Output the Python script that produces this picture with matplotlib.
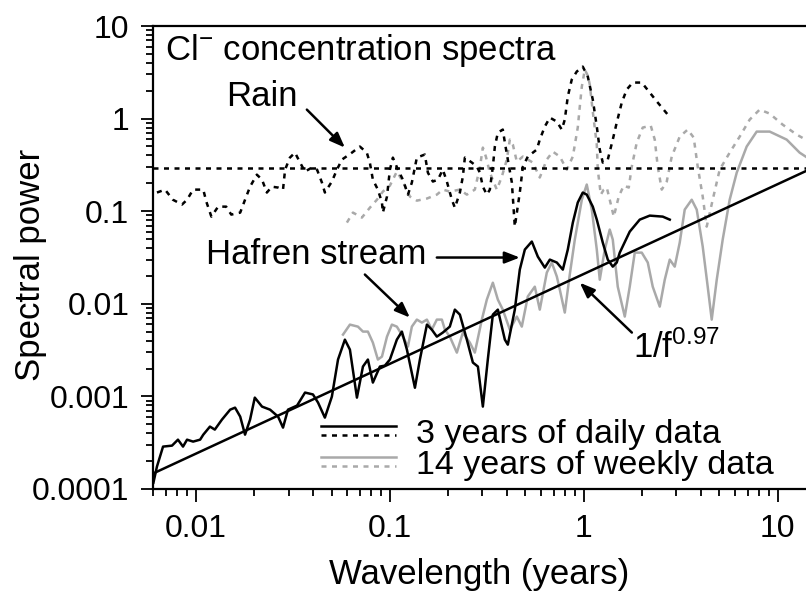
import numpy as np
import matplotlib
matplotlib.use('Agg')
import matplotlib.pyplot as plt
from matplotlib.legend_handler import HandlerBase
from matplotlib.lines import Line2D
from matplotlib.ticker import FuncFormatter, NullFormatter

plt.rcParams['font.family'] = ['Liberation Sans', 'DejaVu Sans']
plt.rcParams['mathtext.fontset'] = 'custom'
plt.rcParams['mathtext.rm'] = 'Liberation Sans'
plt.rcParams['mathtext.it'] = 'Liberation Sans:italic'
plt.rcParams['mathtext.default'] = 'regular'

# --- Hafren stream, 3 years of daily data (wavelength in years, power)
stream_daily_wl = [0.00603, 0.00629, 0.00676, 0.00752, 0.00807, 0.00857, 0.00899, 0.00966,
                   0.0105, 0.0109, 0.0118, 0.0125, 0.0136, 0.0150, 0.0159, 0.0169, 0.0179,
                   0.0190, 0.0201, 0.0219, 0.0241, 0.0265, 0.0281, 0.0298, 0.0332, 0.0365,
                   0.0401, 0.0426, 0.0462, 0.0502, 0.0540, 0.0586, 0.0622, 0.0676, 0.0726,
                   0.0770, 0.0817, 0.0888, 0.0942, 0.100, 0.1086, 0.1153, 0.1224, 0.1346,
                   0.1428, 0.1552, 0.1645, 0.1746, 0.1875, 0.2037, 0.2163, 0.2296, 0.2494,
                   0.2679, 0.2844, 0.3016, 0.3199, 0.3396, 0.3604, 0.3917, 0.4057, 0.4408,
                   0.4677, 0.4966, 0.5395, 0.5794, 0.6295, 0.6683, 0.7261, 0.7798, 0.827,
                   0.878, 0.931, 0.988, 1.036, 1.113, 1.167, 1.253, 1.330, 1.411, 1.479,
                   1.533, 1.726, 1.944, 2.189, 2.554, 2.776]
stream_daily_pw = [1.17e-4, 1.75e-4, 2.87e-4, 2.94e-4, 3.41e-4, 2.87e-4, 3.41e-4, 3.25e-4,
                   3.41e-4, 3.86e-4, 4.72e-4, 4.38e-4, 5.61e-4, 7.19e-4, 7.56e-4, 6.05e-4,
                   3.86e-4, 5.61e-4, 9.7e-4, 7.76e-4, 7.19e-4, 6.05e-4, 4.6e-4, 7.19e-4,
                   7.96e-4, 1.10e-3, 1.05e-3, 8.57e-4, 5.9e-4, 9.95e-4, 2.50e-3, 4.10e-3,
                   3.20e-3, 9.7e-4, 2.10e-3, 2.50e-3, 1.41e-3, 2.10e-3, 2.15e-3, 2.50e-3,
                   4.10e-3, 5.01e-3, 3.20e-3, 1.24e-3, 2.50e-3, 5.96e-3, 5.26e-3, 4.42e-3,
                   4.89e-3, 5.67e-3, 8.65e-3, 7.64e-3, 4.10e-3, 2.32e-3, 2.10e-3, 7.76e-4,
                   2.50e-3, 7.64e-3, 8.65e-3, 4.10e-3, 3.62e-3, 8.65e-3, 0.0234, 0.0385,
                   0.0470, 0.0323, 0.0246, 0.0300, 0.0279, 0.0234, 0.0385, 0.0753, 0.124,
                   0.159, 0.151, 0.112, 0.0811, 0.0458, 0.0300, 0.0252, 0.0279, 0.0357,
                   0.0602, 0.0811, 0.0896, 0.0874, 0.0811]

# --- Hafren stream, 14 years of weekly data
stream_weekly_wl = [0.0573, 0.0622, 0.0684, 0.0726, 0.0770, 0.0817, 0.0867, 0.0910, 0.0966,
                    0.1024, 0.1086, 0.1167, 0.1239, 0.1298, 0.1377, 0.1462, 0.1552, 0.1645,
                    0.1746, 0.1854, 0.1921, 0.2037, 0.2215, 0.2378, 0.2584, 0.2742, 0.2980,
                    0.3162, 0.3396, 0.3604, 0.3822, 0.4155, 0.4515, 0.4790, 0.5145, 0.5590,
                    0.5930, 0.6445, 0.6839, 0.7261, 0.7523, 0.7981, 0.8468, 0.899, 0.977,
                    1.036, 1.100, 1.167, 1.209, 1.283, 1.361, 1.411, 1.497, 1.627, 1.726,
                    1.832, 1.991, 2.138, 2.268, 2.465, 2.616, 2.776, 2.945, 3.125, 3.316,
                    3.603, 3.824, 4.106, 4.357, 4.569, 4.850, 5.206, 5.656, 6.150, 6.921,
                    7.795, 9.095, 11.13, 12.98, 13.94]
stream_weekly_pw = [4.65e-3, 5.96e-3, 5.67e-3, 5.01e-3, 5.01e-3, 3.81e-3, 2.50e-3, 2.69e-3,
                    4.42e-3, 5.96e-3, 5.67e-3, 4.42e-3, 3.45e-3, 5.67e-3, 6.75e-3, 6.27e-3,
                    6.75e-3, 5.26e-3, 6.75e-3, 6.75e-3, 5.26e-3, 4.42e-3, 2.97e-3, 4.89e-3,
                    3.81e-3, 2.97e-3, 6.75e-3, 0.0111, 0.0169, 0.0111, 8.65e-3, 5.26e-3,
                    7.28e-3, 5.67e-3, 0.0120, 0.0153, 8.65e-3, 0.0217, 0.0279, 0.0197,
                    0.0142, 8.04e-3, 0.0207, 0.0494, 0.133, 0.194, 0.104, 0.0385, 0.0182,
                    0.0385, 0.0633, 0.0494, 0.0153, 7.28e-3, 0.0153, 0.0357, 0.0357, 0.0279,
                    0.0153, 9.33e-3, 0.0182, 0.0300, 0.0252, 0.0458, 0.104, 0.133, 0.104,
                    0.0415, 0.0153, 6.75e-3, 0.0182, 0.0494, 0.133, 0.261, 0.499, 0.724,
                    0.724, 0.593, 0.429, 0.389]

# --- Rain, 3 years of daily data
rain_daily_wl = [0.00629, 0.00692, 0.00760, 0.00847, 0.00899, 0.00966, 0.0109, 0.0113, 0.0120,
                 0.0130, 0.0143, 0.0152, 0.0169, 0.0179, 0.0190, 0.0206, 0.0219, 0.0232,
                 0.0246, 0.0265, 0.0281, 0.0288, 0.0305, 0.0324, 0.0344, 0.0365, 0.0396,
                 0.0421, 0.0446, 0.0462, 0.0502, 0.0533, 0.0566, 0.0637, 0.0700, 0.0760,
                 0.0788, 0.0817, 0.0867, 0.0910, 0.0920, 0.0966, 0.100, 0.1036, 0.110,
                 0.1167, 0.1239, 0.1298, 0.1377, 0.1514, 0.1570, 0.1666, 0.1768, 0.1875,
                 0.1967, 0.2088, 0.2163, 0.2296, 0.2378, 0.2436, 0.2648, 0.2809, 0.2911,
                 0.3016, 0.3162, 0.3277, 0.3396, 0.3478, 0.3604, 0.3822, 0.3917, 0.4057,
                 0.4256, 0.4408, 0.4677, 0.4851, 0.5145, 0.5724, 0.5930, 0.6295, 0.6683,
                 0.7261, 0.7701, 0.7981, 0.827, 0.867, 0.920, 0.988, 1.049, 1.113, 1.167,
                 1.209, 1.253, 1.330, 1.411, 1.479, 1.570, 1.666, 1.789, 1.991, 2.189,
                 2.407, 2.710]
rain_daily_pw = [0.159, 0.171, 0.133, 0.118, 0.133, 0.171, 0.171, 0.127, 0.0874, 0.112, 0.112,
                 0.0919, 0.0966, 0.133, 0.184, 0.248, 0.219, 0.159, 0.184, 0.180, 0.171,
                 0.281, 0.379, 0.429, 0.335, 0.268, 0.296, 0.281, 0.204, 0.159, 0.209,
                 0.281, 0.361, 0.429, 0.499, 0.429, 0.335, 0.219, 0.171, 0.124, 0.0966,
                 0.144, 0.281, 0.379, 0.281, 0.219, 0.151, 0.204, 0.379, 0.409, 0.261,
                 0.209, 0.219, 0.281, 0.209, 0.133, 0.109, 0.159, 0.236, 0.379, 0.335,
                 0.303, 0.261, 0.184, 0.151, 0.171, 0.303, 0.499, 0.706, 0.761, 0.551,
                 0.361, 0.204, 0.0682, 0.159, 0.303, 0.389, 0.463, 0.593, 0.820, 1.025,
                 0.928, 0.761, 0.975, 1.73, 2.64, 3.22, 3.64, 2.84, 1.60, 0.820, 0.463,
                 0.335, 0.361, 0.593, 0.905, 1.49, 2.06, 2.45, 2.45, 1.91, 1.49, 1.105]

# --- Rain, 14 years of weekly data
rain_weekly_wl = [0.0600, 0.0645, 0.0717, 0.0788, 0.0857, 0.0920, 0.100, 0.1086, 0.1167,
                  0.1268, 0.1377, 0.1552, 0.1746, 0.1875, 0.2037, 0.2296, 0.2494, 0.2742,
                  0.2911, 0.3016, 0.3126, 0.3277, 0.3560, 0.3778, 0.4010, 0.4155, 0.4306,
                  0.4515, 0.4851, 0.5459, 0.5930, 0.6445, 0.6922, 0.7523, 0.8174, 0.878,
                  0.931, 0.9537, 0.977, 1.012, 1.049, 1.074, 1.113, 1.167, 1.181, 1.224,
                  1.268, 1.314, 1.361, 1.428, 1.515, 1.607, 1.706, 1.768, 1.876, 2.014,
                  2.215, 2.323, 2.407, 2.524, 2.679, 2.842, 3.125, 3.436, 3.690, 3.869,
                  4.106, 4.306, 4.623, 5.023, 5.656, 6.371, 7.172, 8.077, 9.095, 10.61,
                  12.53, 13.94]
rain_weekly_pw = [0.0753, 0.0966, 0.0853, 0.109, 0.133, 0.163, 0.189, 0.268, 0.209, 0.144,
                  0.130, 0.137, 0.151, 0.171, 0.163, 0.171, 0.151, 0.171, 0.296, 0.486,
                  0.389, 0.261, 0.171, 0.236, 0.361, 0.593, 0.524, 0.343, 0.389, 0.335,
                  0.231, 0.361, 0.440, 0.389, 0.281, 0.389, 0.800, 1.348, 2.216, 3.38,
                  2.91, 2.33, 1.19, 0.524, 0.281, 0.151, 0.171, 0.180, 0.133, 0.0874,
                  0.144, 0.189, 0.180, 0.303, 0.551, 0.800, 0.840, 0.593, 0.303, 0.171,
                  0.209, 0.389, 0.639, 0.761, 0.623, 0.303, 0.144, 0.0682, 0.133, 0.281,
                  0.429, 0.639, 0.975, 1.251, 1.132, 0.861, 0.672, 0.593]

rain_level = 0.29           # flat (white) rain spectrum
fit_amp, fit_exp = 0.021, 0.97   # stream fit: power = amp * wavelength^exp
x_lim = (0.006, 14.0)
y_lim = (1e-4, 10.0)

BLACK = 'black'
GRAY = '#a9a9a9'
DOT = (0, (2.0, 2.2))
LW = 1.8
FS = 25


class PairHandler(HandlerBase):
    """Legend key with a solid line stacked above a dashed one."""
    def create_artists(self, legend, orig_handle, xdescent, ydescent,
                       width, height, fontsize, trans):
        out = []
        for k, h in enumerate(orig_handle):
            y = height * (0.72 - 0.40 * k) - ydescent
            ln = Line2D([-xdescent, width - xdescent], [y, y])
            ln.update_from(h)
            ln.set_transform(trans)
            out.append(ln)
        return out


fig = plt.figure(figsize=(8.06, 5.95), dpi=100)
ax = fig.add_axes([153 / 806, 1 - 489 / 595, 653 / 806, 463 / 595])
ax.set_xscale('log')
ax.set_yscale('log')
ax.set_xlim(*x_lim)
ax.set_ylim(*y_lim)

# weekly records first so the daily ones sit on top
l_rw, = ax.plot(rain_weekly_wl, rain_weekly_pw, color=GRAY, lw=LW, linestyle=DOT)
l_sw, = ax.plot(stream_weekly_wl, stream_weekly_pw, color=GRAY, lw=LW)
l_rd, = ax.plot(rain_daily_wl, rain_daily_pw, color=BLACK, lw=LW, linestyle=DOT)
l_sd, = ax.plot(stream_daily_wl, stream_daily_pw, color=BLACK, lw=LW)

ax.axhline(rain_level, color=BLACK, lw=LW, linestyle=DOT)
wl = np.array(x_lim)
ax.plot(wl, fit_amp * wl ** fit_exp, color=BLACK, lw=LW)

# labels and arrows
arrow = dict(arrowstyle='-|>,head_length=0.9,head_width=0.35', color='black',
             lw=1.8, shrinkA=0, shrinkB=0)
ax.text(0.018, 0.948, 'Cl$^{-}$ concentration spectra', transform=ax.transAxes,
        fontsize=FS, ha='left', va='center')
ax.text(0.0219, 1.73, 'Rain', fontsize=FS, ha='center', va='center')
ax.annotate('', xy=(0.0586, 0.486), xytext=(0.0373, 1.25), arrowprops=arrow)
ax.text(0.0112, 0.034, 'Hafren stream', fontsize=FS, ha='left', va='center')
ax.annotate('', xy=(0.468, 0.0316), xytext=(0.1746, 0.0316), arrowprops=arrow)
ax.annotate('', xy=(0.1268, 0.0071), xytext=(0.0743, 0.0207), arrowprops=arrow)
ax.text(1.79, 0.00336, '1/f$^{%.2f}$' % fit_exp, fontsize=FS, ha='left', va='center')
ax.annotate('', xy=(0.954, 0.0169), xytext=(1.77, 0.00489), arrowprops=arrow)

ax.legend([(l_sd, l_rd), (l_sw, l_rw)],
          ['3 years of daily data', '14 years of weekly data'],
          handler_map={tuple: PairHandler()}, loc='lower left',
          bbox_to_anchor=(0.236, -0.012), frameon=False, fontsize=24.5,
          handlelength=2.2, handletextpad=0.6, labelspacing=0.0,
          borderaxespad=0)

ax.set_xlabel('Wavelength (years)', fontsize=FS, labelpad=10)
ax.set_ylabel('Spectral power', fontsize=FS)
ax.yaxis.set_label_coords(-0.162, 0.485)

fmt = FuncFormatter(lambda v, p: '%g' % v)
ax.xaxis.set_major_formatter(fmt)
ax.yaxis.set_major_formatter(fmt)
ax.xaxis.set_minor_formatter(NullFormatter())
ax.yaxis.set_minor_formatter(NullFormatter())
ax.tick_params(which='both', direction='out', width=1.3, colors='black',
               top=False, right=False)
ax.tick_params(which='major', length=9, labelsize=23, pad=8)
ax.tick_params(axis='x', which='major', pad=9)
ax.tick_params(which='minor', length=5)

for side in ['left', 'top', 'bottom']:
    ax.spines[side].set_linewidth(1.6)
ax.spines['right'].set_visible(False)

plt.savefig('out.png', dpi=100)
